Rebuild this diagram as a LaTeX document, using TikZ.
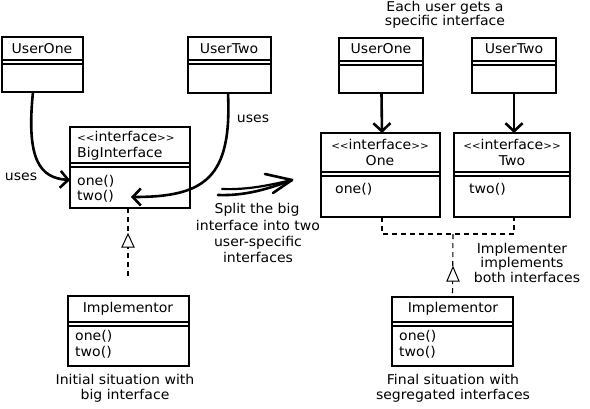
\documentclass[tikz,border=0pt]{standalone}
\usepackage{fontspec}
\setmainfont[FakeStretch=1.04]{DejaVu Sans}
\usetikzlibrary{arrows.meta}
\newcommand{\ubox}[6]{% name, x1, y1, x2, y2, ysplit
  \node[ubx, minimum width=#4pt-#2pt, minimum height=#5pt-#3pt] (#1) at ({(#2+#4)/2},{(#3+#5)/2}) {};
  \draw[sepa] (#2,#6) -- (#4,#6);
  \draw[sepb] (#2,#6+4) -- (#4,#6+4);
}
\newcommand{\stereo}{{\fontsize{10}{10}\selectfont<\kern0pt<}interface{\fontsize{10}{10}\selectfont>\kern0pt>}}
\begin{document}
\begin{tikzpicture}[x=1pt,y=-1pt,
  ubx/.style={draw, line width=2.8pt, inner sep=0pt, outer sep=0pt},
  sepa/.style={line width=1.6pt},
  sepb/.style={line width=2pt},
  txt/.style={font=\fontsize{13.5}{16}\selectfont, inner sep=0pt, text height=10pt, text depth=3pt},
  lt/.style={txt, anchor=west},
  conn/.style={line width=2.6pt, -{Straight Barb[length=8pt,width=17pt]}},
  dsh/.style={line width=1.1pt, dash pattern=on 5pt off 4pt},
  tri/.style={line width=1pt, fill=white, line join=miter},
  bigarr/.style={line width=2.6pt, line cap=round, line join=round}
]
\useasboundingbox (0,0) rectangle (590,408);
\fill[white] (0,0) rectangle (590,408);

% ---------- left side ----------
\ubox{uoL}{2}{37}{83}{92}{60}
\ubox{utL}{188}{37}{271}{93}{60}
\ubox{big}{70}{127}{190}{208}{163}
\ubox{imL}{68}{296}{189}{366}{322}

\node[txt] (uoLt) at (42,50) {UserOne};
\node[txt] (utLt) at (229,50) {UserTwo};
\node[lt] (bigs) at (77,138) {\stereo};
\node[lt] (bign) at (77,154) {BigInterface};
\node[lt] (bigo) at (77,182) {one()};
\node[lt] (bigt) at (77,197) {two()};
\node[txt] (imLt) at (128,309) {Implementor};
\node[lt] (imLo) at (75,337) {one()};
\node[lt] (imLw) at (75,353) {two()};
\node[txt] (capL1) at (125,381) {Initial situation with};
\node[txt] (capL2) at (125,396) {big interface};
\node[txt] (usesL) at (21,177) {uses};
\node[txt] (usesR) at (253,119) {uses};

\coordinate (t1) at (70,180);
\coordinate (t2) at (131,197);
\draw[conn] ([xshift=-9.5pt]uoL.south) .. controls (26,160) and (40,178) .. (t1);
\draw[conn] ([xshift=-1.5pt]utL.south) .. controls (232,178) and (205,197) .. (t2);

\coordinate (dl) at (128,278);
\draw[dsh] (dl |- big.south) -- (dl);
\draw[tri] (128,234) -- (122,247) -- (134,247) -- cycle;

% ---------- middle arrow ----------
\coordinate (ma) at (218,195);
\coordinate (mb) at (222,189);
\coordinate (mt) at (292,180);
\draw[bigarr] (ma) .. controls (245,196) and (268,189) .. (mt);
\draw[line width=2.2pt, line cap=round] (mb) .. controls (248,190) and (270,185) .. (mt);
\draw[bigarr] (265,174) -- (mt) -- (273,193);
\node[txt] (sp1) at (257,210) {Split the big};
\node[txt] (sp2) at (258,227) {interface into two};
\node[txt] (sp3) at (258,243) {user-specific};
\node[txt] (sp4) at (258,259) {interfaces};

% ---------- right side ----------
\node[txt] (eh1) at (445,8) {Each user gets a};
\node[txt] (eh2) at (445,22) {specific interface};

\ubox{uoR}{339}{38}{423}{93}{61}
\ubox{utR}{472}{38}{556}{93}{61}
\ubox{one}{321}{133}{440}{217}{172}
\ubox{two}{454}{133}{570}{217}{172}
\ubox{imR}{392}{297}{513}{366}{322}

\node[txt] (uoRt) at (381,50) {UserOne};
\node[txt] (utRt) at (514,50) {UserTwo};
\node[txt] (ones) at (380,146) {\stereo};
\node[txt] (onen) at (380,162) {One};
\node[lt] (oneo) at (335,190) {one()};
\node[txt] (twos) at (512,146) {\stereo};
\node[txt] (twon) at (512,162) {Two};
\node[lt] (twoo) at (469,190) {two()};
\node[txt] (imRt) at (453,309) {Implementor};
\node[lt] (imRo) at (399,337) {one()};
\node[lt] (imRw) at (399,353) {two()};
\node[txt] (capR1) at (453,381) {Final situation with};
\node[txt] (capR2) at (453,396) {segregated interfaces};
\node[txt] (ie1) at (522,250) {Implementer};
\node[txt] (ie2) at (522,264) {implements};
\node[txt] (ie3) at (527,279) {both interfaces};

\draw[conn] ([xshift=0.5pt]uoR.south) -- ([xshift=1.5pt]one.north);
\draw[conn] (utR.south) -- ([xshift=2pt]two.north);

\coordinate (jL) at (382,234);
\coordinate (jR) at (514,234);
\coordinate (jM) at (453,234);
\draw[dsh] (jL |- one.south) -- (jL) -- (jR) -- (jR |- two.south);
\draw[dsh] (jM) -- (imR.north);
\draw[tri] (453,267) -- (447,281) -- (459,281) -- cycle;
\end{tikzpicture}
\end{document}
